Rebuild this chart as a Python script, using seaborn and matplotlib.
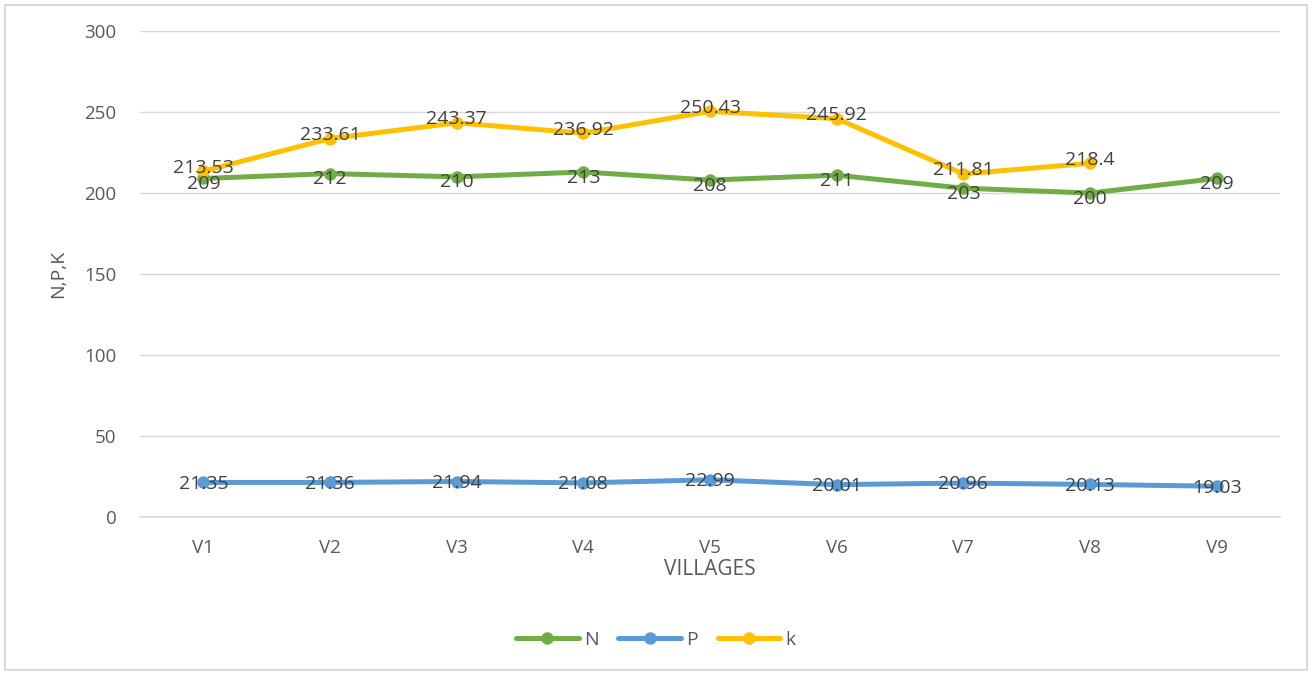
import matplotlib
matplotlib.use("Agg")
import matplotlib.pyplot as plt
import seaborn as sns
import pandas as pd
import numpy as np
from matplotlib.patches import Rectangle
from matplotlib.transforms import offset_copy

villages = ["V1", "V2", "V3", "V4", "V5", "V6", "V7", "V8", "V9"]
n_vals = [209, 212, 210, 213, 208, 211, 203, 200, 209]
p_vals = [21.35, 21.36, 21.94, 21.08, 22.99, 20.01, 20.96, 20.13, 19.03]
k_vals = [213.53, 233.61, 243.37, 236.92, 250.43, 245.92, 211.81, 218.4]
k_labels = ["213.53", "233.61", "243.37", "236.92", "250.43", "245.92", "211.81", "218.4"]
n_labels = [str(v) for v in n_vals]
p_labels = ["21.35", "21.36", "21.94", "21.08", "22.99", "20.01", "20.96", "20.13", "19.03"]

series = {"N": (n_vals, n_labels, "#70AD47", -4),
          "P": (p_vals, p_labels, "#5B9BD5", -1),
          "k": (k_vals, k_labels, "#FFC000", 2.5)}

rows = []
for name, (vals, labs, col, off) in series.items():
    for v, val in zip(villages, vals):
        rows.append({"village": v, "value": val, "series": name})
df = pd.DataFrame(rows)

sns.set_theme(style="white")
plt.rcParams["font.family"] = ["Open Sans", "DejaVu Sans"]
txt = "#595959"

fig = plt.figure(figsize=(13.12, 6.75), dpi=100)
ax = fig.add_axes([0.1067, 0.234, 0.869, 0.72])

palette = {k: c for k, (_, _, c, _) in series.items()}
sns.lineplot(data=df, x="village", y="value", hue="series", palette=palette,
             marker="o", markersize=9, markeredgewidth=0, linewidth=3.6,
             sort=False, ax=ax, legend=True)

for name, (vals, labs, col, off) in series.items():
    tr = offset_copy(ax.transData, fig=fig, x=0, y=off, units="points")
    for i, (val, lab) in enumerate(zip(vals, labs)):
        ax.text(i, val, lab, ha="center", va="center", fontsize=14,
                color="#404040", transform=tr)

ax.set_ylim(0, 300)
ax.set_xlim(-0.5, 8.5)
ax.set_yticks([0, 50, 100, 150, 200, 250, 300])
ax.yaxis.grid(True, color="#D9D9D9", linewidth=1)
ax.xaxis.grid(False)
for s in ["top", "right", "left"]:
    ax.spines[s].set_visible(False)
ax.spines["bottom"].set_color("#D9D9D9")
ax.spines["bottom"].set_linewidth(1.2)
ax.tick_params(axis="y", length=0, labelsize=13.5, labelcolor=txt, pad=17)
ax.tick_params(axis="x", which="major", length=0, labelsize=13.5, labelcolor=txt, pad=16)
ax.set_xticks(np.arange(-0.5, 9, 1), minor=True)
ax.tick_params(axis="x", which="minor", length=6, color="#D9D9D9", width=1.2)
ax.set_xlabel("VILLAGES", fontsize=15, color=txt, labelpad=1)
ax.set_ylabel("N,P,K", fontsize=14, color=txt, labelpad=12)

handles, labels = ax.get_legend_handles_labels()
ax.legend(handles, labels, loc="center", bbox_to_anchor=(0.5, 0.052),
          bbox_transform=fig.transFigure, ncol=3, frameon=False,
          fontsize=14, labelcolor=txt, handlelength=3.2, columnspacing=1.0,
          handletextpad=0.3)

fig.patches.append(Rectangle((0.004, 0.007), 0.992, 0.985, transform=fig.transFigure,
                             fill=False, edgecolor="#D9D9D9", linewidth=1.5))

fig.savefig("out.png", dpi=100)
